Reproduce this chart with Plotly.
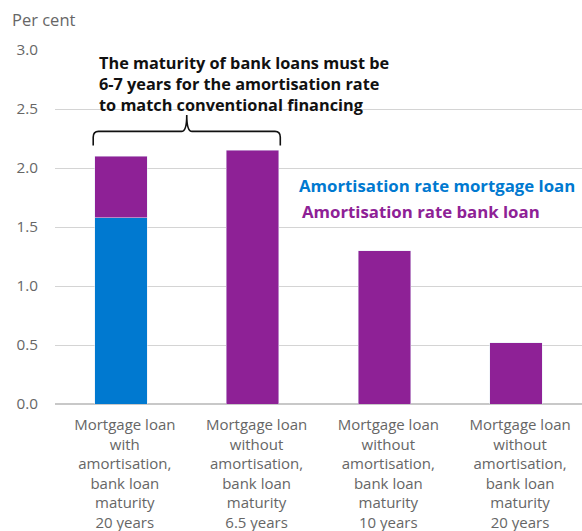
import plotly.graph_objects as go

# Category labels (x axis) and series values, per cent
categories = [
    "Mortgage loan<br>with<br>amortisation,<br>bank loan<br>maturity<br>20 years",
    "Mortgage loan<br>without<br>amortisation,<br>bank loan<br>maturity<br>6.5 years",
    "Mortgage loan<br>without<br>amortisation,<br>bank loan<br>maturity<br>10 years",
    "Mortgage loan<br>without<br>amortisation,<br>bank loan<br>maturity<br>20 years",
]
mortgage_rate = [1.58, 0, 0, 0]
bank_rate = [0.52, 2.15, 1.30, 0.52]
y_ticks = [0.0, 0.5, 1.0, 1.5, 2.0, 2.5, 3.0]
y_ticktext = ["0.0", "0.5", "1.0", "1.5", "2.0", "2.5", "3.0"]

BLUE = "#0079D0"
PURPLE = "#8E2196"
FONT = "Open Sans"
BAR_W = 0.4

xpos = list(range(len(categories)))
label_pos = [x + 0.03 for x in xpos]

fig = go.Figure()
fig.add_trace(go.Bar(x=xpos, y=mortgage_rate, marker_color=BLUE, width=BAR_W,
                     name="Amortisation rate mortgage loan", showlegend=False))
fig.add_trace(go.Bar(x=xpos, y=bank_rate, marker_color=PURPLE, width=BAR_W,
                     name="Amortisation rate bank loan", showlegend=False))

# Curly brace spanning the first two bars
x0 = xpos[0] - BAR_W / 2 - 0.01
x1 = xpos[1] + BAR_W / 2 + 0.01
xm = (x0 + x1) / 2
y_end, y_bar, y_tip = 2.19, 2.31, 2.45
r = 0.04
ry = 0.05
brace = (
    f"M {x0},{y_end} L {x0},{y_bar - ry} Q {x0},{y_bar} {x0 + r},{y_bar} "
    f"L {xm - r},{y_bar} Q {xm},{y_bar} {xm},{y_tip} "
    f"Q {xm},{y_bar} {xm + r},{y_bar} L {x1 - r},{y_bar} "
    f"Q {x1},{y_bar} {x1},{y_bar - ry} L {x1},{y_end}"
)
fig.add_shape(type="path", path=brace, xref="x", yref="y",
              line=dict(color="#111111", width=1.6))

fig.add_annotation(
    text="The maturity of bank loans must be<br>6-7 years for the amortisation rate<br>to match conventional financing",
    xref="paper", yref="y", x=0.080, y=3.0, xanchor="left", yanchor="top",
    align="left", showarrow=False,
    font=dict(family=FONT, size=16.3, color="#111111", weight="bold"),
)
fig.add_annotation(text="Amortisation rate mortgage loan", xref="paper", yref="y",
                   x=0.459, y=1.85, xanchor="left", yanchor="middle", showarrow=False,
                   font=dict(family=FONT, size=16.8, color=BLUE, weight="bold"))
fig.add_annotation(text="Amortisation rate bank loan", xref="paper", yref="y",
                   x=0.465, y=1.63, xanchor="left", yanchor="middle", showarrow=False,
                   font=dict(family=FONT, size=16.8, color=PURPLE, weight="bold"))
fig.add_annotation(text="Per cent", xref="paper", yref="paper", x=-0.085, y=1.086,
                   xanchor="left", yanchor="middle", showarrow=False,
                   font=dict(family=FONT, size=16.5, color="#666666"))

fig.update_layout(
    width=582, height=531,
    margin=dict(l=55, r=0, t=50, b=127),
    barmode="stack",
    plot_bgcolor="white", paper_bgcolor="white",
    font=dict(family=FONT, size=15, color="#666666"),
    xaxis=dict(range=[-0.5, 3.5], tickvals=label_pos, ticktext=categories,
               showgrid=False, zeroline=False, showline=False, ticks="",
               automargin=False,
               ticklabelstandoff=10, tickfont=dict(size=15, color="#666666")),
    yaxis=dict(range=[0, 3.0], tickvals=y_ticks, ticktext=y_ticktext,
               showgrid=True, gridcolor="#D4D4D4", gridwidth=1,
               zeroline=True, zerolinecolor="#C8C8C8", zerolinewidth=1.5,
               showline=False, ticks="", ticklabelstandoff=16, automargin=False,
               tickfont=dict(size=15.3, color="#666666")),
)

fig.write_html("out.html")
